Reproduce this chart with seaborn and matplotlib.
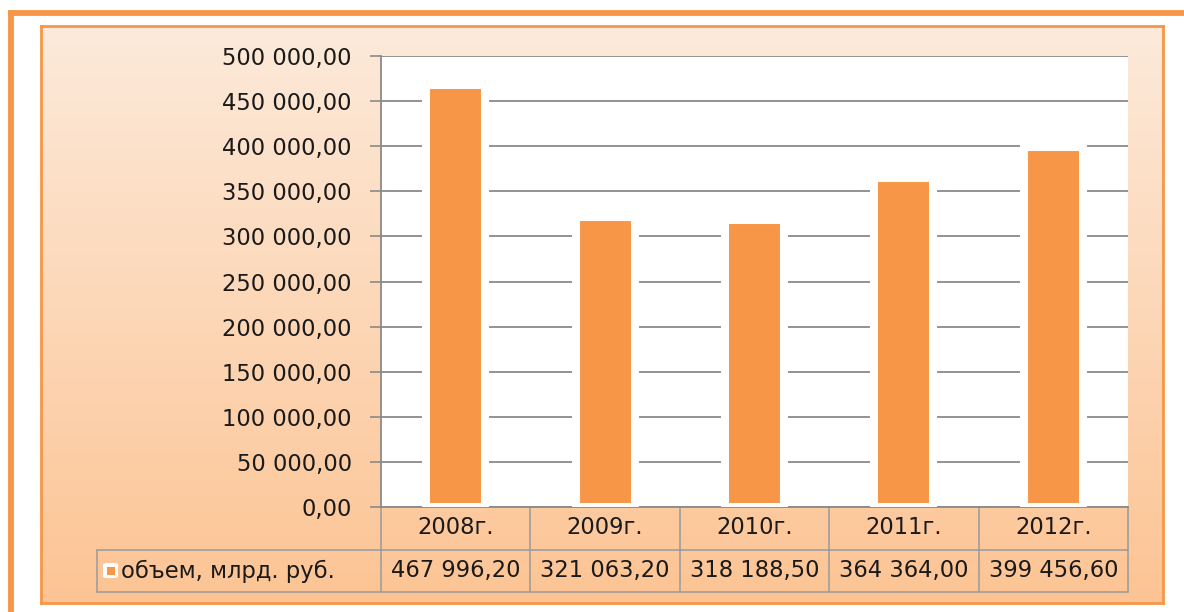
import numpy as np
import pandas as pd
import matplotlib
matplotlib.use("Agg")
import matplotlib.pyplot as plt
import matplotlib.patheffects as pe
from matplotlib.patches import FancyBboxPatch, Rectangle
from matplotlib.lines import Line2D
import matplotlib.transforms as mtransforms
import seaborn as sns

# ---- data ----
years = ["2008г.", "2009г.", "2010г.", "2011г.", "2012г."]
volume = [467996.20, 321063.20, 318188.50, 364364.00, 399456.60]
series_label = "объем, млрд. руб."
y_ticks = [0, 50000, 100000, 150000, 200000, 250000, 300000, 350000, 400000, 450000, 500000]

ORANGE = "#F79646"
GRID = "#8A8A8A"
TABLE_LINE = "#9A9A9A"
TEXT = "#1A1A1A"

sns.set_theme(style="white")
plt.rcParams["font.family"] = ["DejaVu Sans"]

W, H = 1184, 612
fig = plt.figure(figsize=(W / 100, H / 100), dpi=100)
fig.patch.set_facecolor("white")

def fx(px):
    return px / W

def fy(py):
    return 1 - py / H

FS = 16.3

# outer orange frame lines (top and left)
fig.add_artist(Line2D([fx(8), fx(1184)], [fy(13), fy(13)], color=ORANGE, lw=4.2, solid_capstyle="butt"))
fig.add_artist(Line2D([fx(11), fx(11)], [fy(11), fy(612)], color=ORANGE, lw=4.2, solid_capstyle="butt"))

# gradient panel
px0, py0, px1, py1 = 41, 26, 1163, 603
bg = fig.add_axes([fx(px0), fy(py1), fx(px1 - px0), (py1 - py0) / H], zorder=0)
top = np.array([253, 234, 218]) / 255
bot = np.array([252, 196, 148]) / 255
t = np.linspace(0, 1, 256)[:, None]
grad = top[None, :] * (1 - t) + bot[None, :] * t
bg.imshow(grad[:, None, :], aspect="auto", extent=[0, 1, 0, 1])
bg.set_xticks([]); bg.set_yticks([])
for s in bg.spines.values():
    s.set_color(ORANGE)
    s.set_linewidth(2.0)

# main plot axes
ax0, ay0, ax1, ay1 = 381, 56, 1128, 507
ax = fig.add_axes([fx(ax0), fy(ay1), fx(ax1 - ax0), (ay1 - ay0) / H], zorder=2)
ax.set_facecolor("white")

df = pd.DataFrame({"year": years, "volume": volume})
sns.barplot(data=df, x="year", y="volume", color=ORANGE, saturation=1, width=0.395,
            edgecolor="white", linewidth=5.8, ax=ax, zorder=3)
for p in ax.patches:
    p.set_facecolor(ORANGE)
    p.set_path_effects([pe.SimplePatchShadow(offset=(2.5, -2), shadow_rgbFace="#000000", alpha=0.12), pe.Normal()])

ax.set_xlim(-0.5, len(years) - 0.5)
ax.set_ylim(0, 500000)
ax.set_yticks(y_ticks)

def fmt(v):
    s = f"{v:,.2f}"
    ip, dp = s.split(".")
    return ip.replace(",", " ") + "," + dp

ax.set_yticklabels([fmt(v) for v in y_ticks], fontsize=FS, color=TEXT)
ax.yaxis.grid(True, color=GRID, linewidth=1.3, zorder=0)
ax.set_axisbelow(True)
ax.tick_params(axis="y", length=8, width=1.2, color=GRID, pad=13, left=True)
ax.tick_params(axis="x", bottom=False, labelbottom=False)
ax.set_xlabel(""); ax.set_ylabel("")
for side in ["top", "right"]:
    ax.spines[side].set_visible(False)
ax.spines["left"].set_color(GRID)
ax.spines["left"].set_linewidth(1.3)
ax.spines["bottom"].set_color(GRID)
ax.spines["bottom"].set_linewidth(1.3)

# data table below the axis
tr = mtransforms.blended_transform_factory(ax.transData, fig.transFigure)
n = len(years)
y_div, y_bot, y_cat, y_val = 550, 592, 528, 571
fig.add_artist(Line2D([fx(97), fx(ax1)], [fy(y_div), fy(y_div)], color=TABLE_LINE, lw=1.1))
fig.add_artist(Line2D([fx(97), fx(ax1)], [fy(y_bot), fy(y_bot)], color=TABLE_LINE, lw=1.1))
fig.add_artist(Line2D([fx(97), fx(97)], [fy(y_div), fy(y_bot)], color=TABLE_LINE, lw=1.1))
for k in range(n + 1):
    xb = k - 0.5
    fig.add_artist(Line2D([xb, xb], [fy(ay1), fy(y_bot)], color=TABLE_LINE, lw=1.1, transform=tr))
for i, (yr, v) in enumerate(zip(years, volume)):
    fig.text(i, fy(y_cat), yr, transform=tr, ha="center", va="center", fontsize=FS, color=TEXT)
    fig.text(i, fy(y_val), fmt(v), transform=tr, ha="center", va="center", fontsize=FS, color=TEXT)

# legend key + series label
fig.add_artist(FancyBboxPatch((fx(103), fy(578)), fx(15), 15 / H, boxstyle="round,pad=0,rounding_size=0.003",
                              facecolor="white", edgecolor="none"))
fig.add_artist(Rectangle((fx(106.5), fy(574.5)), fx(8), 8 / H, facecolor=ORANGE, edgecolor="none"))
fig.text(fx(121), fy(y_val), series_label, ha="left", va="center", fontsize=FS, color=TEXT)

fig.savefig("out.png", dpi=100, facecolor="white")
